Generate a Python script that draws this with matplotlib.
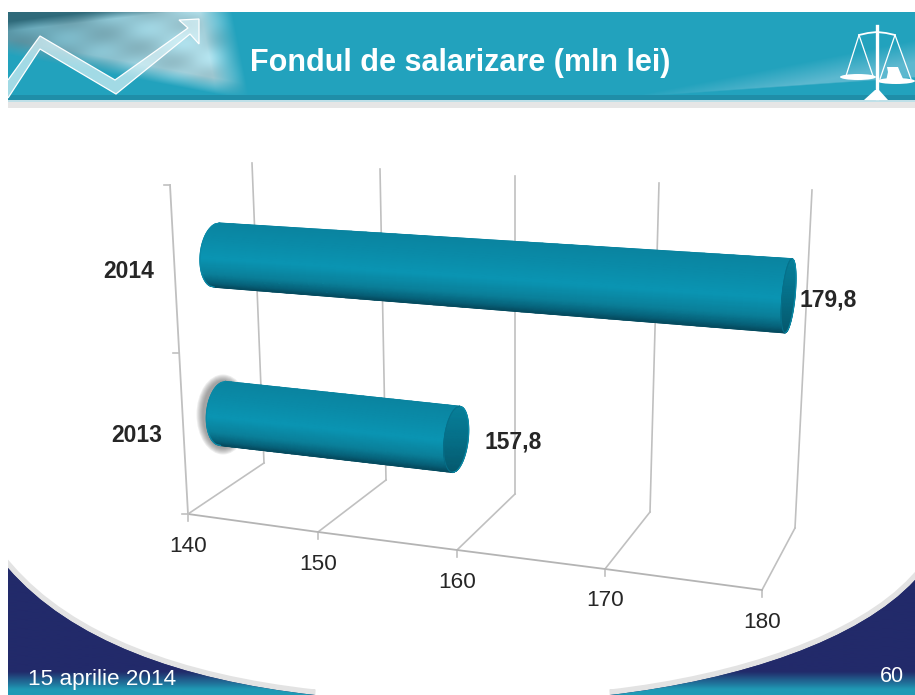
import numpy as np
import matplotlib.pyplot as plt
from matplotlib.colors import LinearSegmentedColormap, to_rgb
from matplotlib.patches import PathPatch, Ellipse, Polygon
from matplotlib.path import Path

plt.rcParams['font.family'] = ['Liberation Sans', 'DejaVu Sans']

# Data
years = ['2013', '2014']
values = [157.8, 179.8]
value_labels = ['157,8', '179,8']
ticks = [140, 150, 160, 170, 180]
tick_labels = ['140', '150', '160', '170', '180']
title = 'Fondul de salarizare (mln lei)'
date_text = '15 aprilie 2014'
page_text = '60'

# The 3D box as it lands on the slide, in pixels
FRONT_X = [188, 318, 457, 605, 762]
FRONT_Y = [514, 532, 550, 569, 590]
BACK_X = [264, 386, 515, 650, 795]
BACK_Y = [463, 480, 494, 512, 528]
TOP_X = [252, 380, 515, 659, 812]
TOP_Y = [163, 169, 176, 183, 190]
WALL_TOP = (170, 185)
WALL_MID_Y = 353

# Bar layout
BAR_DEPTH = 0.5
BAR_HEIGHT = [0.25, 0.778]
BAR_R_START = [32, 32]
BAR_R_END = [33, 37]
BAR_RX_START = 16.5
BAR_RX_END = [12, 6.5]
LABEL_OFFSET = [(57, 3), (40, 4)]
YEAR_POS = [(137, 436), (129, 272)]
TICK_LABEL_Y = [546, 564, 583, 601, 622]

GRID = '#c0c0c0'
TEXT = '#262626'
NAVY = '#222a6a'

bar_cmap = LinearSegmentedColormap.from_list('bar', [
    (0.0, '#0a84a0'), (0.25, '#0a8ba8'), (0.55, '#0a95b3'),
    (0.8, '#0a7f99'), (0.93, '#06627a'), (1.0, '#054c60')])
cap_cmap = LinearSegmentedColormap.from_list('cap', ['#07809a', '#056f88', '#05596e'])


def rgb(c):
    return np.array(to_rgb(c))


def project(v, depth, height):
    bx, by = np.interp(v, ticks, BACK_X), np.interp(v, ticks, BACK_Y)
    fx, fy = np.interp(v, ticks, FRONT_X), np.interp(v, ticks, FRONT_Y)
    tx, ty = np.interp(v, ticks, TOP_X), np.interp(v, ticks, TOP_Y)
    return np.array([bx + (fx - bx) * depth + (tx - bx) * height,
                     by + (fy - by) * depth + (ty - by) * height])


def draw_banner(ax):
    h, w = 83, 907
    xx, yy = np.meshgrid(np.linspace(8, 915, w), np.linspace(12, 95, h))
    img = np.ones((h, w, 3)) * rgb('#22a2bd')

    # light lens on the right
    ytop = 95 - (xx - 640) * 0.2
    ybot = 95 - (xx - 677) * 0.07
    lens = np.clip((yy - ytop) / 22, 0, 1) * np.clip((ybot - yy) / 1.5, 0, 1) * (xx > 640)
    img += lens[..., None] * (rgb('#5cb8cf') - img)

    # photo on the left: pale at the top right, grey streaks, teal at the bottom left
    along = np.clip((xx - 8) / 190, 0, 1)[..., None]
    photo = rgb('#5f9fb0') + along * (rgb('#aedce7') - rgb('#5f9fb0'))
    streak = np.sin((yy - xx * 0.42) / 7) + 0.5 * np.sin((xx * 0.5 + yy) / 5)
    photo = photo * (0.97 + 0.05 * streak[..., None])
    top_dark = np.clip((20 - (yy - 12) - xx * 0.12) / 10, 0, 1)[..., None]
    photo = photo + top_dark * (rgb('#2f6a7a') - photo)
    mask = np.clip((55 + (xx - 8) * 0.19 - yy) / 16, 0, 1) * np.clip((232 - xx + (yy - 12) * 0.2) / 32, 0, 1)
    img += mask[..., None] * (photo - img)
    ax.imshow(np.clip(img, 0, 1), extent=(8, 915, 95, 12), aspect='auto', zorder=1)

    ax.fill_between([8, 915], 95, 100, color='#1f8ea8', lw=0, zorder=2)
    ax.fill_between([8, 915], 100, 102, color='#bfe0e8', lw=0, zorder=2)
    ax.fill_between([8, 915], 102, 108, color='#e6e6e6', lw=0, zorder=2)

    # rising arrow
    arrow = [(8, 80), (40, 36), (115, 80), (188, 28), (179, 20), (199, 19), (199, 44),
             (190, 34), (116, 94), (40, 49), (8, 98)]
    ax.add_patch(Polygon(arrow, closed=False, fc=(0.85, 0.95, 0.97, 0.7), ec='white', lw=0.9, zorder=3))

    # scales on the right
    c = 'white'
    ax.plot([877, 877], [26, 98], color=c, lw=2.4, zorder=3)
    ax.plot([859, 868, 877, 886, 895], [35, 33, 32, 33, 35], color=c, lw=1.3, zorder=3)
    ax.plot([846, 859, 873], [76, 35, 76], color=c, lw=0.9, zorder=3)
    ax.plot([880, 895, 911], [79, 35, 79], color=c, lw=0.9, zorder=3)
    ax.add_patch(Ellipse((858, 77), 36, 6, color=c, lw=0, zorder=3))
    ax.add_patch(Ellipse((896, 81), 38, 6, color=c, lw=0, zorder=3))
    ax.add_patch(Polygon([(886, 81), (888, 72), (887, 67), (898, 67), (900, 72), (904, 81)],
                         color=c, lw=0, zorder=3))
    ax.add_patch(Polygon([(875, 90), (879, 90), (888, 100), (864, 100)], color=c, lw=0, zorder=3))


def draw_corners(ax):
    codes = [Path.MOVETO, Path.CURVE4, Path.CURVE4, Path.CURVE4, Path.LINETO, Path.LINETO, Path.CLOSEPOLY]
    left = [(8, 568), (70, 640), (180, 680), (315, 695), (8, 695), (8, 568), (8, 568)]
    right = [(915, 580), (860, 640), (740, 680), (610, 695), (915, 695), (915, 580), (915, 580)]
    ny = 120
    grad = np.ones((ny, 1, 3)) * rgb(NAVY)
    rows = np.linspace(560, 695, ny)
    k = np.clip((rows - 672) / 18, 0, 1)[:, None, None]
    grad = grad + k * (rgb('#1f9ab5') - grad)
    for pts in (left, right):
        path = Path(pts, codes)
        ax.add_patch(PathPatch(path, fc='none', ec='#e3e3e3', lw=8, zorder=1))
        patch = PathPatch(path, fc=NAVY, ec='none', zorder=1.5)
        ax.add_patch(patch)
        im = ax.imshow(grad, extent=(0, 915, 695, 560), aspect='auto', zorder=1.6)
        im.set_clip_path(patch)
    # keep the white margin on the left
    ax.fill_between([0, 8], 0, 695, color='white', lw=0, zorder=1.7)


def draw_grid(ax):
    for i in range(len(ticks)):
        ax.plot([BACK_X[i], TOP_X[i]], [BACK_Y[i], TOP_Y[i]], color=GRID, lw=1.2, zorder=4)
        ax.plot([BACK_X[i], FRONT_X[i]], [BACK_Y[i], FRONT_Y[i]], color=GRID, lw=1.2, zorder=4)
        ax.plot([FRONT_X[i], FRONT_X[i]], [FRONT_Y[i], FRONT_Y[i] + 7], color=GRID, lw=1.2, zorder=4)
        ax.text(FRONT_X[i], TICK_LABEL_Y[i], tick_labels[i], color=TEXT, fontsize=16.2,
                ha='center', va='center', zorder=8)
    ax.plot(FRONT_X, FRONT_Y, color='#b4b4b4', lw=1.3, zorder=4)
    # left wall with category ticks
    ax.plot([FRONT_X[0], WALL_TOP[0]], [FRONT_Y[0], WALL_TOP[1]], color=GRID, lw=1.3, zorder=4)
    for y in (WALL_TOP[1], WALL_MID_Y, FRONT_Y[0]):
        x = np.interp(y, [WALL_TOP[1], FRONT_Y[0]], [WALL_TOP[0], FRONT_X[0]])
        ax.plot([x - 6.5, x], [y, y], color=GRID, lw=1.2, zorder=4)


def draw_bar(ax, i):
    start = project(ticks[0], BAR_DEPTH, BAR_HEIGHT[i])
    end = project(values[i], BAR_DEPTH, BAR_HEIGHT[i])

    # grey glow round the 2013 bar start
    if i == 0:
        for k in range(7):
            ax.add_patch(Ellipse(start + np.array([0, 1]), 2 * (BAR_RX_START + 7 - k) + 6,
                                 2 * (32 + 8 - k), color='#555555', alpha=0.1, lw=0, zorder=5))

    t = np.linspace(-1, 1, 60)
    s = np.linspace(0, 1, 40)
    S, T = np.meshgrid(s, t)
    cx = start[0] + (end[0] - start[0]) * S
    cy = start[1] + (end[1] - start[1]) * S
    r = BAR_R_START[i] + (BAR_R_END[i] - BAR_R_START[i]) * S
    lean = (2.5 + 1 * S) / 32
    bulge = BAR_RX_START * np.sqrt(1 - T ** 2) * (1 - S)
    X = cx + lean * r * -T - bulge
    Y = cy + r * T
    ax.pcolormesh(X, Y, (T + 1) / 2, cmap=bar_cmap, vmin=0, vmax=1, shading='gouraud', zorder=6)
    ax.plot(X[0], Y[0], color='#0a84a0', lw=0.9, zorder=6)
    ax.plot(X[-1], Y[-1], color='#054c60', lw=0.9, zorder=6)
    ax.plot(X[:, 0], Y[:, 0], color='#0a8aa7', lw=0.9, zorder=6)

    # end cap
    rx = BAR_RX_END[i]
    r_end = BAR_R_END[i]
    s2 = np.linspace(-1, 1, 20)
    S2, T2 = np.meshgrid(s2, t)
    XC = end[0] - 3.5 * T2 + rx * np.sqrt(1 - T2 ** 2) * S2
    YC = end[1] + r_end * T2
    ax.pcolormesh(XC, YC, (T2 + 1) / 2, cmap=cap_cmap, vmin=0, vmax=1, shading='gouraud', zorder=7)
    ax.plot(XC[:, -1], YC[:, -1], color='#0a8aa7', lw=0.9, zorder=7)
    ax.plot(XC[:, 0], YC[:, 0], color='#06708a', lw=0.7, zorder=7)

    ax.text(end[0] + LABEL_OFFSET[i][0], end[1] + LABEL_OFFSET[i][1], value_labels[i],
            color=TEXT, fontsize=16.5, fontweight='bold', ha='center', va='center', zorder=8)
    ax.text(YEAR_POS[i][0], YEAR_POS[i][1], years[i], color=TEXT, fontsize=16.5,
            fontweight='bold', ha='center', va='center', zorder=8)


fig = plt.figure(figsize=(9.15, 6.95), dpi=100, facecolor='white')
ax = fig.add_axes([0, 0, 1, 1])

draw_banner(ax)
draw_corners(ax)
draw_grid(ax)
for i in range(len(values)):
    draw_bar(ax, i)

ax.text(460.5, 63, title, color='white', fontsize=22, fontweight='bold', ha='center', va='center', zorder=8)
ax.text(28, 679, date_text, color='white', fontsize=16.2, ha='left', va='center', zorder=8)
ax.text(892, 676, page_text, color='white', fontsize=15.5, ha='center', va='center', zorder=8)

ax.set_xlim(0, 915)
ax.set_ylim(695, 0)
ax.axis('off')
fig.savefig('out.png', dpi=100)
